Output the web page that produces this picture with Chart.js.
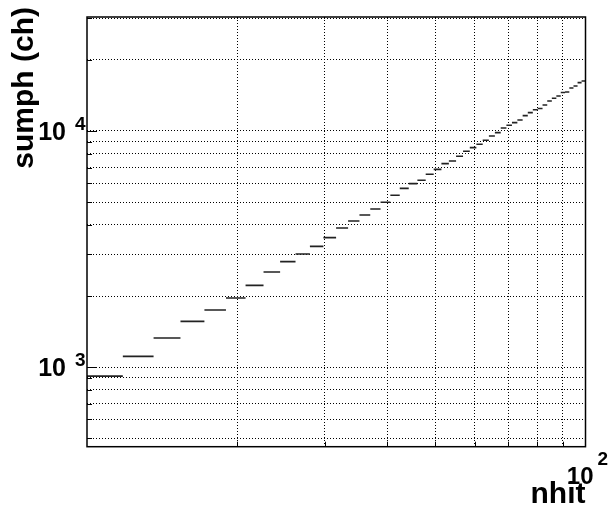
<!DOCTYPE html>
<html>
<head>
<meta charset="utf-8">
<script src="https://cdn.jsdelivr.net/npm/chart.js@4.4.1/dist/chart.umd.min.js"></script>
<style>
html,body{margin:0;padding:0;background:#fff;}
#wrap{width:615px;height:510px;position:relative;}
</style>
</head>
<body>
<div id="wrap"><canvas id="c" width="615" height="510"></canvas></div>
<script>
// histogram bins (low edges), bin width
const binLow = [10, 11.8, 13.6, 15.4, 17.2, 19, 20.8, 22.6, 24.4, 26.2,
  28, 29.8, 31.6, 33.4, 35.2, 37, 38.8, 40.6, 42.4, 44.2,
  46, 47.8, 49.6, 51.4, 53.2, 55, 56.8, 58.6, 60.4, 62.2,
  64, 65.8, 67.6, 69.4, 71.2, 73, 74.8, 76.6, 78.4, 80.2,
  82, 83.8, 85.6, 87.4, 89.2, 91, 92.8, 94.6, 96.4, 98.2];
const binWidth = 1.8;
// bin contents (sumph)
const sumph = [916, 1110, 1327, 1562, 1744, 1961, 2218, 2526, 2797, 3013,
  3247, 3534, 3882, 4156, 4406, 4672, 4988, 5340, 5717, 5986,
  6183, 6554, 6881, 7277, 7463, 7813, 8204, 8506, 8783, 9133,
  9524, 9845, 10297, 10572, 10854, 11131, 11623, 11967, 12300, 12450,
  12893, 13400, 13757, 14070, 14560, 14620, 15211, 15511, 16030, 16287];
// axis ranges and grid positions
const xRange = [10, 100];
const yRange = [460, 30400];
const xGrid = [20, 30, 40, 50, 60, 70, 80, 90];
const yGrid = [500, 600, 700, 800, 900, 1000, 2000, 3000, 4000, 5000, 6000, 7000, 8000, 9000, 10000, 20000, 30000];
const yMajor = [1000, 10000];
const yLabels = [{v:1000, base:'10', exp:'3'}, {v:10000, base:'10', exp:'4'}];
const xLabel = {v:100, base:'10', exp:'2'};

const pts = [];
for (let i = 0; i < binLow.length; i++) {
  pts.push({x: binLow[i], y: sumph[i]});
  pts.push({x: binLow[i] + binWidth, y: sumph[i]});
  pts.push({x: binLow[i] + binWidth, y: null});
}

const FONT = '"Liberation Sans", Arial, Helvetica, sans-serif';

const decor = {
  id: 'decor',
  afterDraw(chart) {
    const ctx = chart.ctx;
    const a = chart.chartArea;
    const xs = chart.scales.x, ys = chart.scales.y;
    ctx.save();
    // frame
    ctx.strokeStyle = '#000';
    ctx.lineWidth = 1.5;
    ctx.strokeRect(a.left, a.top, a.right - a.left, a.bottom - a.top);
    // ticks
    ctx.lineWidth = 1;
    ctx.beginPath();
    yGrid.forEach(v => {
      const y = Math.round(ys.getPixelForValue(v)) + 0.5;
      const len = yMajor.includes(v) ? 10 : 5;
      ctx.moveTo(a.left, y); ctx.lineTo(a.left + len, y);
    });
    xGrid.forEach(v => {
      const x = Math.round(xs.getPixelForValue(v)) + 0.5;
      ctx.moveTo(x, a.bottom); ctx.lineTo(x, a.bottom - 5);
    });
    ctx.stroke();
    // y labels
    ctx.fillStyle = '#000';
    yLabels.forEach(l => {
      const y = ys.getPixelForValue(l.v);
      ctx.font = 'bold 25px ' + FONT;
      ctx.textAlign = 'right';
      ctx.textBaseline = 'middle';
      ctx.fillText(l.base, 66, y + 2);
      ctx.font = 'bold 19px ' + FONT;
      ctx.textAlign = 'left';
      ctx.textBaseline = 'alphabetic';
      ctx.fillText(l.exp, 75, y - 1);
    });
    // x label 10^2
    const xp = xs.getPixelForValue(xLabel.v);
    ctx.font = 'bold 24px ' + FONT;
    ctx.textAlign = 'right';
    ctx.textBaseline = 'alphabetic';
    ctx.fillText(xLabel.base, xp + 8, 484);
    ctx.font = 'bold 19px ' + FONT;
    ctx.textAlign = 'left';
    ctx.fillText(xLabel.exp, xp + 12, 465);
    // axis titles
    ctx.font = 'bold 30px ' + FONT;
    ctx.textAlign = 'right';
    ctx.fillText('nhit', a.right, 503);
    ctx.translate(33, 7);
    ctx.rotate(-Math.PI / 2);
    ctx.textAlign = 'right';
    ctx.fillText('sumph (ch)', 0, 0);
    ctx.restore();
  }
};

new Chart(document.getElementById('c'), {
  type: 'line',
  data: {
    datasets: [{
      data: pts,
      borderColor: '#222',
      borderWidth: 1.6,
      pointRadius: 0,
      spanGaps: false,
      tension: 0,
      fill: false
    }]
  },
  options: {
    responsive: false,
    animation: false,
    devicePixelRatio: 1,
    layout: {padding: {left: 87, top: 17, right: 29.5, bottom: 63.3}},
    plugins: {legend: {display: false}, tooltip: {enabled: false}},
    scales: {
      x: {
        type: 'logarithmic',
        min: xRange[0], max: xRange[1],
        afterBuildTicks: s => { s.ticks = xGrid.map(v => ({value: v})); },
        afterFit: s => { s.height = 0; },
        ticks: {display: false},
        grid: {color: '#000', lineWidth: 1, drawTicks: false},
        border: {display: false, dash: [1, 2]}
      },
      y: {
        type: 'logarithmic',
        min: yRange[0], max: yRange[1],
        afterBuildTicks: s => { s.ticks = yGrid.map(v => ({value: v})); },
        afterFit: s => { s.width = 0; },
        ticks: {display: false},
        grid: {color: '#000', lineWidth: 1, drawTicks: false},
        border: {display: false, dash: [1, 2]}
      }
    }
  },
  plugins: [decor]
});
</script>
</body>
</html>
